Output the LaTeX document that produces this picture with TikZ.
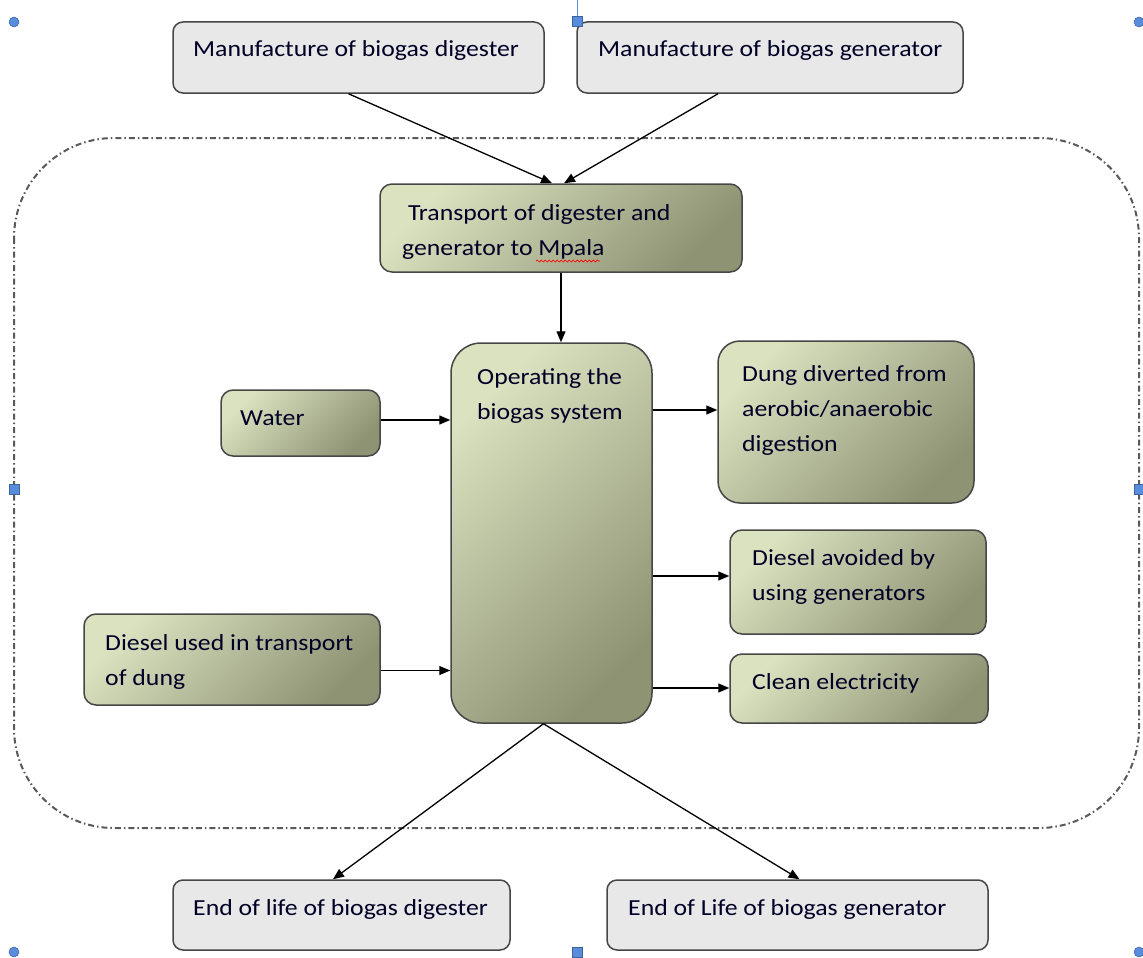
\documentclass[tikz,border=0pt]{standalone}
\usepackage{fontspec}
\setmainfont{Carlito}[FakeStretch=1.12]
\usetikzlibrary{arrows.meta,decorations.pathmorphing}

\definecolor{oliveL}{RGB}{218,226,192}
\definecolor{oliveM}{RGB}{192,199,160}
\definecolor{oliveD}{RGB}{142,147,115}
\definecolor{edgegray}{RGB}{70,70,70}
\definecolor{handleblue}{RGB}{88,140,220}

\begin{document}
\begin{tikzpicture}[x=1pt,y=1pt]
\tikzstyle{every node}+=[inner sep=0pt]
\tikzstyle{stonebox}=[draw=edgegray, line width=1.5pt, rounded corners=10pt, fill=black!9]
\tikzstyle{olivebox}=[draw=edgegray, line width=1.5pt, rounded corners=12pt, top color=oliveL, middle color=oliveM, bottom color=oliveD, shading angle=45]
\tikzstyle{txt}=[font=\fontsize{23}{35}\selectfont, text=black!85!blue, align=left, anchor=base west]
\tikzstyle{flow}=[black, line width=1.3pt, -{Triangle[length=11pt,width=9pt]}]
\tikzstyle{handle}=[draw=handleblue!70!black, fill=handleblue, line width=0.5pt]
\useasboundingbox (0,0) rectangle (1143,-958);
% system boundary
\draw [black!65, line width=2pt, rounded corners=100pt, dash pattern=on 6pt off 3pt on 1.5pt off 3pt] (14,-138) rectangle (1139,-828);
% boxes
\node [stonebox, minimum width=371, minimum height=71] (mfgdig) at (358.5,-57.5) {};
\node [stonebox, minimum width=386, minimum height=71] (mfggen) at (770,-57.5) {};
\node [olivebox, minimum width=362, minimum height=88] (trans) at (561,-228) {};
\node [olivebox, rounded corners=30pt, minimum width=201, minimum height=380] (oper) at (551.5,-533) {};
\node [olivebox, minimum width=159, minimum height=66] (water) at (300.5,-423) {};
\node [olivebox, rounded corners=22pt, minimum width=256, minimum height=162] (dung) at (846,-422) {};
\node [olivebox, minimum width=256, minimum height=104] (avoid) at (858,-582) {};
\node [olivebox, minimum width=258, minimum height=69] (clean) at (859,-688.5) {};
\node [olivebox, minimum width=296, minimum height=91] (dslused) at (232,-659.5) {};
\node [stonebox, minimum width=337, minimum height=70] (eoldig) at (341.5,-915) {};
\node [stonebox, minimum width=381, minimum height=70] (eolgen) at (797.5,-915) {};
% texts (multi-line ones sit on their last baseline)
\node [txt] (mfgdigtxt) at (193,-57) {Manufacture of biogas digester};
\node [txt] (mfggentxt) at (598,-57) {Manufacture of biogas generator};
\node [txt] (transtxt) at (402,-255) {\ Transport of digester and\\generator to Mpala};
\node [txt] (opertxt) at (477,-419) {Operating the\\biogas system};
\node [txt] (watertxt) at (240,-425) {Water};
\node [txt] (dungtxt) at (742,-451) {Dung diverted from\\aerobic/anaerobic\\digestion};
\node [txt] (avoidtxt) at (752,-600) {Diesel avoided by\\using generators};
\node [txt] (cleantxt) at (752,-689) {Clean electricity};
\node [txt] (dslusedtxt) at (105,-685) {Diesel used in transport\\of dung};
\node [txt] (eoldigtxt) at (193,-915) {End of life of biogas digester};
\node [txt] (eolgentxt) at (628,-915) {End of Life of biogas generator};
\draw [red, line width=0.7pt, decorate, decoration={snake, segment length=4pt, amplitude=1pt}] (536,-261) -- (600,-261);
% connectors
\draw [flow] ([xshift=-10]mfgdig.south) -- ([xshift=-9]trans.north);
\draw [flow] ([xshift=-52]mfggen.south) -- ([xshift=3]trans.north);
\draw [flow] (trans.south) -- (trans.south |- oper.north);
\draw [flow] ([yshift=3]water.east) -- ([yshift=3]water.east -| oper.west);
\draw [flow] ([yshift=-11]dslused.east) -- ([yshift=-11]dslused.east -| oper.west);
\draw [flow] ([yshift=123]oper.east) -- ([yshift=123]oper.east -| dung.west);
\draw [flow] ([yshift=-43]oper.east) -- ([yshift=-43]oper.east -| avoid.west);
\draw [flow] ([yshift=-155]oper.east) -- ([yshift=-155]oper.east -| clean.west);
\draw [flow] ([xshift=-8]oper.south) -- ([xshift=-8.5]eoldig.north);
\draw [flow] ([xshift=-8]oper.south) -- ([xshift=2]eolgen.north);
% selection handles
\draw [handleblue, line width=1pt] (577,0) -- (577,-16);
\foreach \hx/\hy in {14/-22, 1139/-22, 14/-952, 1139/-952}
  \draw [handle] (\hx,\hy) circle (5);
\foreach \hx/\hy in {577/-21, 14/-489, 1139/-489, 577/-952}
  \draw [handle] (\hx-5,\hy-5) rectangle (\hx+5,\hy+5);
\end{tikzpicture}
\end{document}
